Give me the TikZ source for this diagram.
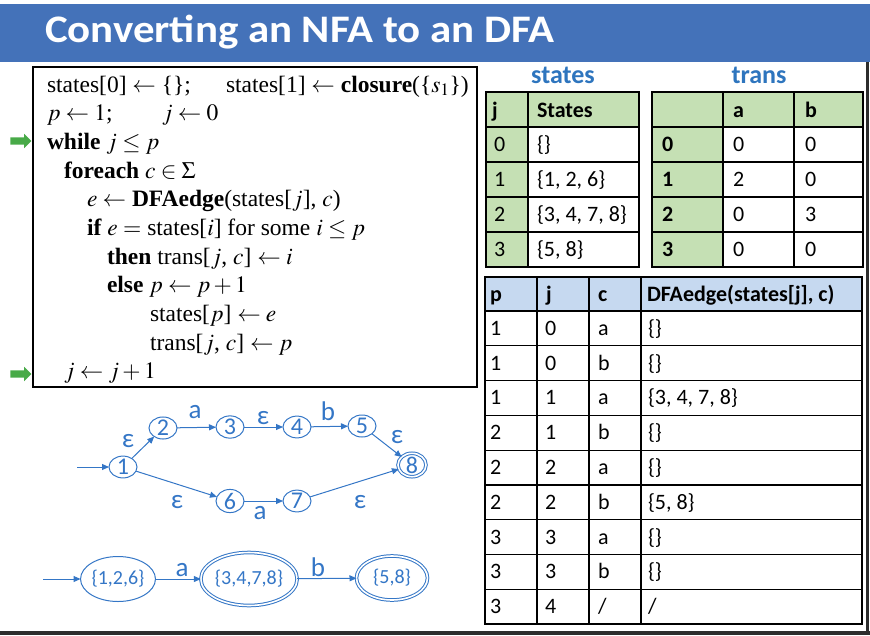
\documentclass[tikz,border=0pt]{standalone}
\usepackage{mathptmx}
\usepackage[no-math]{fontspec}
\setmainfont{Liberation Serif}
\newfontfamily\calibri{Carlito}
\usetikzlibrary{arrows.meta,shapes.geometric,shapes.arrows,positioning}

\definecolor{titleblue}{RGB}{68,114,185}
\definecolor{headblue}{RGB}{46,117,190}
\definecolor{fablue}{RGB}{52,118,198}
\definecolor{cellgreen}{RGB}{197,224,180}
\definecolor{cellblue}{RGB}{198,217,240}
\definecolor{markgreen}{RGB}{72,170,72}
\definecolor{framegray}{RGB}{45,45,45}

\begin{document}
\begin{tikzpicture}[
        x=1pt, y=-1pt,
        every node/.style={inner sep=0pt, outer sep=0pt},
        code/.style={anchor=base west, font=\fontsize{23.5}{29}\selectfont},
        marker/.style={single arrow, fill=markgreen, draw=none, minimum height=21pt,
            inner sep=3.5pt, single arrow head extend=3.5pt},
        grid/.style={draw=black, line width=1.2pt},
        cell/.style={anchor=base west, font=\calibri\fontsize{22}{26}\selectfont},
        hcell/.style={cell, font=\calibri\bfseries\fontsize{22}{26}\selectfont},
        state/.style={ellipse, draw=fablue, line width=1pt, text=fablue,
            minimum width=28pt, minimum height=20pt, font=\calibri\fontsize{24}{24}\selectfont},
        accept/.style={state, double=white, double distance=1.6pt},
        dstate/.style={state, font=\calibri\fontsize{20}{20}\selectfont},
        daccept/.style={dstate, double=white, double distance=1.6pt},
        lbl/.style={text=fablue, font=\calibri\fontsize{27}{27}\selectfont},
        fedge/.style={draw=fablue, line width=1pt, -{Triangle[length=7pt,width=6pt]}},
    ]
    \useasboundingbox (0,0) rectangle (870,635);

    % === TITLE BAR ===
    \node[fill=titleblue, minimum width=870pt, minimum height=58pt, anchor=north west] (bar) at (0,4) {};
    \node[anchor=base west, text=white, xscale=1.1, transform shape,
        font=\calibri\bfseries\fontsize{39}{44}\selectfont] (title) at (45,42) {Converting an NFA to an DFA};

    % frame on the right and bottom
    \fill[framegray] (0,631) rectangle (870,635);
    \draw[framegray, line width=2.5pt] (867.5,62) -- (867.5,631);

    % === ALGORITHM ===
    \node[draw, line width=2pt, minimum width=444pt, minimum height=320pt, anchor=north west] (algbox) at (33,67) {};
    \node[code] (l1a) at (47,92) {states[0] $\leftarrow$ \{\};};
    \node[code] (l1b) at (226,92) {states[1] $\leftarrow$ \textbf{closure}(\{$s_1$\})};
    \node[code] (l2a) at (47,120.6) {$p \leftarrow 1$;};
    \node[code] (l2b) at (162,120.6) {$j \leftarrow 0$};
    \node[code] (l3) at (47,149) {\textbf{while} $j \le p$};
    \node[code] (l4) at (64,178) {\textbf{foreach} $c \in \Sigma$};
    \node[code] (l5) at (87,206) {$e \leftarrow$ \textbf{DFAedge}(states[$j$], $c$)};
    \node[code] (l6) at (87,235) {\textbf{if} $e =$ states[$i$] for some $i \le p$};
    \node[code] (l7) at (107,264) {\textbf{then} trans[$j$, $c$] $\leftarrow i$};
    \node[code] (l8) at (107,292) {\textbf{else} $p \leftarrow p + 1$};
    \node[code] (l9) at (150,321) {states[$p$] $\leftarrow e$};
    \node[code] (l10) at (150,350) {trans[$j$, $c$] $\leftarrow p$};
    \node[code] (l11) at (64,378) {$j \leftarrow j + 1$};

    % green pointers
    \node[marker] (m1) at (19,141) {};
    \node[marker] (m2) at (19,374) {};

    % === NFA ===
    \node[state] (n1) at (123,467) {1};
    \node[state] (n2) at (163,428) {2};
    \node[state] (n3) at (230,427) {3};
    \node[state] (n4) at (297,427) {4};
    \node[state] (n5) at (362,426) {5};
    \node[accept] (n8) at (412,465) {8};
    \node[state] (n6) at (230,501) {6};
    \node[state] (n7) at (297,501) {7};
    \coordinate (nstart) at (77,467);

    \draw[fedge] (nstart) -- (n1);
    \draw[fedge] (n1) -- (n2);
    \draw[fedge] (n2) -- (n3);
    \draw[fedge] (n3) -- (n4);
    \draw[fedge] (n4) -- (n5);
    \draw[fedge] (n5) -- (n8);
    \draw[fedge] (n1) -- (n6);
    \draw[fedge] (n6) -- (n7);
    \draw[fedge] (n7) -- (n8);

    \node[lbl] (e12) at (128,441) {ε};
    \node[lbl] (a23) at (195,412) {a};
    \node[lbl] (e34) at (263,418) {ε};
    \node[lbl] (b45) at (328,411) {b};
    \node[lbl] (e58) at (397,437) {ε};
    \node[lbl] (e16) at (177,502) {ε};
    \node[lbl] (a67) at (260,513) {a};
    \node[lbl] (e78) at (360,502) {ε};

    % === DFA ===
    \node[dstate, minimum width=68pt, minimum height=45pt] (d1) at (118,579) {\{1,2,6\}};
    \node[daccept, minimum width=70pt, minimum height=53pt] (d2) at (249,579) {\{3,4,7,8\}};
    \node[daccept, minimum width=71pt, minimum height=44pt] (d3) at (392,578) {\{5,8\}};
    \coordinate (dstart) at (43,579);

    \draw[fedge] (dstart) -- (d1);
    \draw[fedge] (d1) -- (d2);
    \draw[fedge] (d2) -- (d3);
    \node[lbl] (da) at (182,570) {a};
    \node[lbl] (db) at (318,567) {b};

    % === TABLE: states ===
    \node[text=headblue, font=\calibri\bfseries\fontsize{26}{30}\selectfont] (sthead) at (563,75) {states};
    \fill[cellgreen] (486,92) rectangle (639,127);
    \fill[cellgreen] (486,127) rectangle (528,267);
    \draw[grid] (486,92) rectangle (639,267);
    \foreach \y in {127,162,197,232} \draw[grid] (486,\y) -- (639,\y);
    \draw[grid] (528,92) -- (528,267);
    \node[hcell] (stj) at (492,117) {j};
    \node[hcell] (sts) at (537,117) {States};
    \foreach \txt [count=\r from 0] in {\{\}, {\{1, 2, 6\}}, {\{3, 4, 7, 8\}}, {\{5, 8\}}} {
        \node[cell] (stj\r) at (494,151.5+35*\r) {\r};
        \node[cell] (sts\r) at (537,151.5+35*\r) {\txt};
    }

    % === TABLE: trans ===
    \node[text=headblue, font=\calibri\bfseries\fontsize{26}{30}\selectfont] (trhead) at (759,75) {trans};
    \fill[cellgreen] (652,92) rectangle (863,127);
    \fill[cellgreen] (652,127) rectangle (723,267);
    \draw[grid] (652,92) rectangle (863,267);
    \foreach \y in {127,162,197,232} \draw[grid] (652,\y) -- (863,\y);
    \foreach \x in {723,794} \draw[grid] (\x,92) -- (\x,267);
    \node[hcell] (tra) at (733,117) {a};
    \node[hcell] (trb) at (805,117) {b};
    \foreach \va/\vb [count=\r from 0] in {0/0, 2/0, 0/3, 0/0} {
        \node[hcell] (tr\r) at (662,151.5+35*\r) {\r};
        \node[cell] (tra\r) at (733,151.5+35*\r) {\va};
        \node[cell] (trb\r) at (805,151.5+35*\r) {\vb};
    }

    % === TABLE: DFAedge trace ===
    \fill[cellblue] (485,277) rectangle (862,311);
    \draw[grid] (485,277) rectangle (862,624);
    \foreach \r in {0,...,8} \draw[grid] (485,311+34.78*\r) -- (862,311+34.78*\r);
    \foreach \x in {537,589,641} \draw[grid] (\x,277) -- (\x,624);
    \node[hcell] (hp) at (490,301) {p};
    \node[hcell] (hj) at (546,301) {j};
    \node[hcell] (hc) at (598,301) {c};
    \node[hcell] (he) at (647,301) {DFAedge(states[j], c)};
    \foreach \vp/\vj/\vc/\ve [count=\r from 0] in {1/0/a/\{\}, 1/0/b/\{\}, 1/1/a/{\{3, 4, 7, 8\}},
            2/1/b/\{\}, 2/2/a/\{\}, 2/2/b/{\{5, 8\}}, 3/3/a/\{\}, 3/3/b/\{\}, 3/4/{/}/{/}} {
        \node[cell] (tp\r) at (490,335.4+34.78*\r) {\vp};
        \node[cell] (tj\r) at (545,335.4+34.78*\r) {\vj};
        \node[cell] (tc\r) at (598,335.4+34.78*\r) {\vc};
        \node[cell] (te\r) at (648,335.4+34.78*\r) {\ve};
    }

\end{tikzpicture}
\end{document}
